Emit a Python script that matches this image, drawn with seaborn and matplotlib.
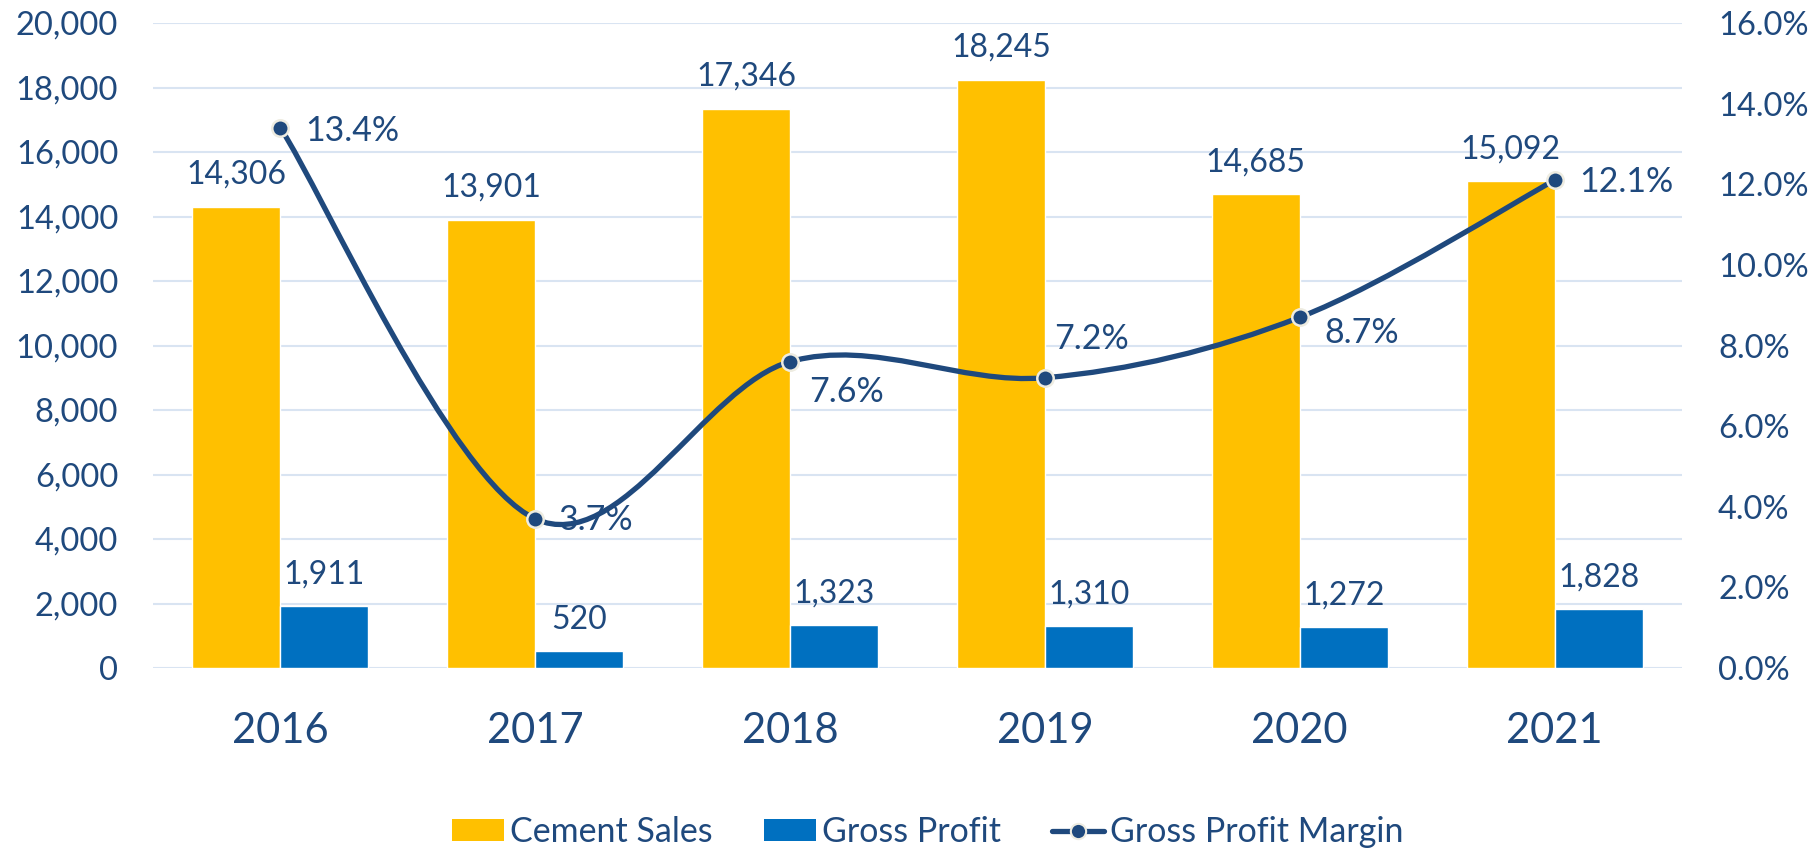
import matplotlib
matplotlib.use("Agg")
import matplotlib.pyplot as plt
import numpy as np
import pandas as pd
import seaborn as sns
from matplotlib.path import Path
from matplotlib.patches import PathPatch, Patch
from matplotlib.lines import Line2D
from matplotlib.ticker import FuncFormatter

# chart data
years = ["2016", "2017", "2018", "2019", "2020", "2021"]
cement_sales = [14306, 13901, 17346, 18245, 14685, 15092]
gross_profit = [1911, 520, 1323, 1310, 1272, 1828]
gp_margin = [0.134, 0.037, 0.076, 0.072, 0.087, 0.121]
series_names = ["Cement Sales", "Gross Profit", "Gross Profit Margin"]

# label nudges for the margin labels (points)
label_dx = [18, 17, 14, 6.5, 18, 18]
label_dy = [-2, -1, -22, 28, -11, -1]

yellow = "#FFC000"
blue = "#0070C0"
navy = "#1F497D"
grid_col = "#D9E4F2"

sns.set_theme(style="white")
plt.rcParams["font.family"] = ["Lato", "DejaVu Sans"]

df = pd.DataFrame({
    "year": years * 2,
    "value": cement_sales + gross_profit,
    "series": [series_names[0]] * len(years) + [series_names[1]] * len(years),
})

fig = plt.figure(figsize=(18.16, 8.5), dpi=100)
ax = fig.add_axes([153 / 1816, 182 / 850, (1682 - 153) / 1816, (668 - 23) / 850])

sns.barplot(data=df, x="year", y="value", hue="series", ax=ax,
            palette=[yellow, blue], saturation=1, width=0.69, legend=False)

for cont in ax.containers:
    ax.bar_label(cont, labels=[f"{v:,.0f}" for v in cont.datavalues],
                 padding=12, fontsize=23, color=navy)

ax.set_ylim(0, 20000)
ax.set_yticks(np.arange(0, 20001, 2000))
ax.yaxis.set_major_formatter(FuncFormatter(lambda v, p: f"{v:,.0f}"))
ax.set_xlim(-0.5, len(years) - 0.5)
ax.grid(axis="y", color=grid_col, linewidth=1.5)
ax.set_axisbelow(True)
ax.set_xlabel("")
ax.set_ylabel("")
for s in ax.spines.values():
    s.set_visible(False)
ax.tick_params(axis="y", length=0, pad=25, labelsize=23.5, labelcolor=navy)
ax.tick_params(axis="x", length=0, pad=32, labelsize=30, labelcolor=navy)

# secondary axis: smoothed margin line
ax2 = ax.twinx()
ax2.set_ylim(0, 0.16)
ax2.set_yticks(np.arange(0, 0.1601, 0.02))
ax2.yaxis.set_major_formatter(FuncFormatter(lambda v, p: f"{v * 100:.1f}%"))
for s in ax2.spines.values():
    s.set_visible(False)
ax2.tick_params(axis="y", length=0, pad=26, labelsize=23.5, labelcolor=navy)
ax2.set_ylabel("")

xs = np.arange(len(years), dtype=float)
ys = np.array(gp_margin)
n = len(xs)
verts = [(xs[0], ys[0])]
codes = [Path.MOVETO]
for i in range(n - 1):
    p0 = np.array([xs[max(i - 1, 0)], ys[max(i - 1, 0)]])
    p1 = np.array([xs[i], ys[i]])
    p2 = np.array([xs[i + 1], ys[i + 1]])
    p3 = np.array([xs[min(i + 2, n - 1)], ys[min(i + 2, n - 1)]])
    c1 = p1 + (p2 - p0) / 6
    c2 = p2 - (p3 - p1) / 6
    verts += [tuple(c1), tuple(c2), tuple(p2)]
    codes += [Path.CURVE4] * 3
ax2.add_patch(PathPatch(Path(verts, codes), fill=False, edgecolor=navy,
                        linewidth=3.8, capstyle="round", zorder=3))

sns.scatterplot(x=xs, y=ys, ax=ax2, s=140, color=navy, edgecolor="#EEECE1",
                linewidth=1.8, zorder=4, legend=False)

for i in range(n):
    ax2.annotate(f"{gp_margin[i] * 100:.1f}%", (xs[i], ys[i]),
                 xytext=(label_dx[i], label_dy[i]), textcoords="offset points",
                 ha="left", va="center", fontsize=24.5, color=navy, zorder=5)

handles = [
    Patch(facecolor=yellow, edgecolor="none"),
    Patch(facecolor=blue, edgecolor="none"),
    Line2D([], [], color=navy, linewidth=3.8, marker="o", markersize=11,
           markeredgecolor="#EEECE1", markeredgewidth=1.5),
]
fig.legend(handles, series_names, loc="center", bbox_to_anchor=(0.511, 0.021),
           ncol=3, frameon=False, fontsize=24.5, handlelength=1.53, handleheight=0.6,
           handletextpad=0.18, columnspacing=1.5, borderpad=0.1,
           labelcolor=navy)

fig.savefig("out.png", dpi=100)
